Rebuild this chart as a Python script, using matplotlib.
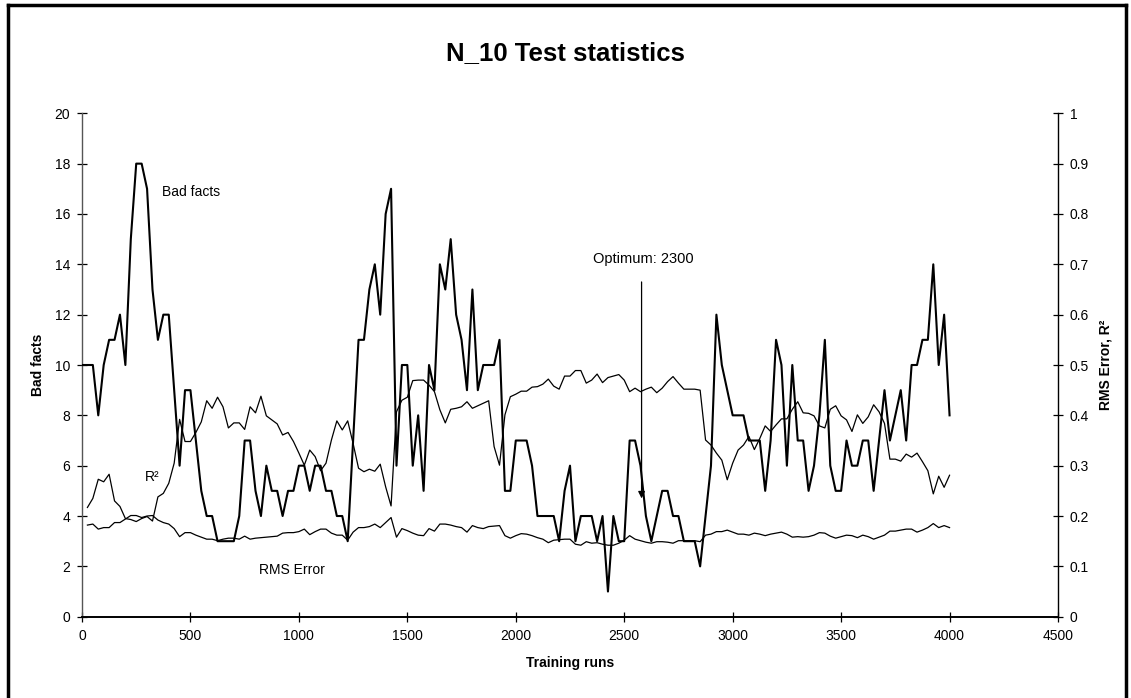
import numpy as np
import matplotlib
matplotlib.use("Agg")
import matplotlib.pyplot as plt
from matplotlib.lines import Line2D

plt.rcParams['font.family'] = ['Liberation Sans', 'DejaVu Sans']

# ---------------- data ----------------
runs = np.arange(0, 4025, 25)          # training runs, one sample every 25 runs

bad_facts = [10, 10, 10, 8, 10, 11, 11, 12, 10, 15,
             18, 18, 17, 13, 11, 12, 12, 9, 6, 9,
             9, 7, 5, 4, 4, 3, 3, 3, 3, 4,
             7, 7, 5, 4, 6, 5, 5, 4, 5, 5,
             6, 6, 5, 6, 6, 5, 5, 4, 4, 3,
             7, 11, 11, 13, 14, 12, 16, 17, 6, 10,
             10, 6, 8, 5, 10, 9, 14, 13, 15, 12,
             11, 9, 13, 9, 10, 10, 10, 11, 5, 5,
             7, 7, 7, 6, 4, 4, 4, 4, 3, 5,
             6, 3, 4, 4, 4, 3, 4, 1, 4, 3,
             3, 7, 7, 6, 4, 3, 4, 5, 5, 4,
             4, 3, 3, 3, 2, 4, 6, 12, 10, 9,
             8, 8, 8, 7, 7, 7, 5, 7, 11, 10,
             6, 10, 7, 7, 5, 6, 8, 11, 6, 5,
             5, 7, 6, 6, 7, 7, 5, 7, 9, 7,
             8, 9, 7, 10, 10, 11, 11, 14, 10, 12,
             8]

# R² and RMS error start at 25 runs
r_squared = [0.217, 0.235, 0.273, 0.268, 0.283, 0.230, 0.219, 0.195, 0.193,
             0.189, 0.195, 0.199, 0.190, 0.238, 0.245, 0.265, 0.305, 0.392, 0.348,
             0.348, 0.366, 0.387, 0.429, 0.414, 0.436, 0.417, 0.375, 0.385, 0.385,
             0.372, 0.417, 0.405, 0.438, 0.399, 0.391, 0.383, 0.361, 0.366, 0.348,
             0.325, 0.301, 0.331, 0.318, 0.290, 0.305, 0.351, 0.389, 0.371, 0.389,
             0.344, 0.295, 0.288, 0.293, 0.289, 0.303, 0.258, 0.220, 0.407, 0.430,
             0.436, 0.469, 0.470, 0.470, 0.460, 0.447, 0.411, 0.385, 0.412, 0.414,
             0.417, 0.427, 0.414, 0.419, 0.424, 0.429, 0.338, 0.301, 0.401, 0.437,
             0.442, 0.448, 0.448, 0.456, 0.457, 0.462, 0.472, 0.458, 0.452, 0.478,
             0.478, 0.489, 0.489, 0.464, 0.470, 0.482, 0.465, 0.475, 0.478, 0.481,
             0.470, 0.447, 0.454, 0.447, 0.452, 0.456, 0.445, 0.454, 0.467, 0.477,
             0.464, 0.452, 0.452, 0.452, 0.450, 0.351, 0.341, 0.325, 0.311, 0.272,
             0.305, 0.331, 0.341, 0.358, 0.332, 0.354, 0.379, 0.368, 0.381, 0.393,
             0.393, 0.412, 0.427, 0.405, 0.404, 0.399, 0.379, 0.375, 0.412, 0.419,
             0.399, 0.391, 0.368, 0.401, 0.384, 0.397, 0.421, 0.407, 0.384, 0.313,
             0.313, 0.309, 0.323, 0.317, 0.325, 0.308, 0.290, 0.244, 0.279, 0.257,
             0.281]

rms_error = [0.182, 0.184, 0.174, 0.177, 0.177, 0.187, 0.187, 0.194, 0.201,
             0.201, 0.197, 0.200, 0.201, 0.192, 0.187, 0.184, 0.175, 0.159, 0.167,
             0.167, 0.162, 0.158, 0.154, 0.154, 0.151, 0.154, 0.156, 0.156, 0.154,
             0.160, 0.154, 0.156, 0.157, 0.158, 0.159, 0.160, 0.166, 0.167, 0.167,
             0.169, 0.174, 0.163, 0.169, 0.174, 0.174, 0.166, 0.162, 0.162, 0.152,
             0.168, 0.177, 0.177, 0.179, 0.184, 0.177, 0.187, 0.197, 0.158, 0.175,
             0.171, 0.166, 0.162, 0.161, 0.175, 0.170, 0.184, 0.184, 0.182, 0.179,
             0.177, 0.168, 0.181, 0.177, 0.175, 0.179, 0.180, 0.181, 0.161, 0.156,
             0.161, 0.165, 0.164, 0.161, 0.157, 0.154, 0.147, 0.152, 0.153, 0.154,
             0.154, 0.144, 0.142, 0.149, 0.146, 0.147, 0.144, 0.142, 0.142, 0.146,
             0.152, 0.161, 0.154, 0.151, 0.148, 0.146, 0.149, 0.149, 0.148, 0.146,
             0.151, 0.151, 0.151, 0.151, 0.149, 0.162, 0.164, 0.169, 0.169, 0.172,
             0.168, 0.164, 0.164, 0.162, 0.166, 0.164, 0.161, 0.164, 0.166, 0.168,
             0.164, 0.158, 0.159, 0.158, 0.159, 0.162, 0.167, 0.166, 0.160, 0.156,
             0.159, 0.162, 0.161, 0.157, 0.162, 0.159, 0.154, 0.158, 0.162, 0.170,
             0.170, 0.172, 0.174, 0.174, 0.168, 0.172, 0.177, 0.185, 0.177, 0.181,
             0.177]

x_ticks = [0, 500, 1000, 1500, 2000, 2500, 3000, 3500, 4000, 4500]
left_ticks = [0, 2, 4, 6, 8, 10, 12, 14, 16, 18, 20]
right_ticks = [0, 0.1, 0.2, 0.3, 0.4, 0.5, 0.6, 0.7, 0.8, 0.9, 1]
right_tick_labels = ["0", "0.1", "0.2", "0.3", "0.4", "0.5", "0.6", "0.7", "0.8", "0.9", "1"]

optimum_x = 2580          # where the annotation arrow sits on the x axis
optimum_top = 13.3
optimum_tip = 4.7

# ---------------- figure ----------------
W, H = 1131, 698
fig = plt.figure(figsize=(W / 100, H / 100), dpi=100)
fig.patch.set_facecolor("white")

x0, x1 = 82, 1058
y_top, y_bot = 113.3, 616.7
ax = fig.add_axes([x0 / W, 1 - y_bot / H, (x1 - x0) / W, (y_bot - y_top) / H])
ax2 = ax.twinx()

ax.plot(runs, bad_facts, color="black", lw=1.5, zorder=3)
ax2.plot(runs[1:], r_squared, color="black", lw=0.9)
ax2.plot(runs[1:], rms_error, color="black", lw=0.9)

ax.set_xlim(0, 4500)
ax.set_ylim(0, 20)
ax2.set_ylim(0, 1)

ax.set_xticks(x_ticks)
ax.set_xticklabels([str(t) for t in x_ticks])
ax.set_yticks(left_ticks)
ax.set_yticklabels([str(t) for t in left_ticks])
ax2.set_yticks(right_ticks)
ax2.set_yticklabels(right_tick_labels)

for a in (ax, ax2):
    a.spines["top"].set_visible(False)
    a.set_facecolor("none")
    for s in ("left", "right", "bottom"):
        a.spines[s].set_linewidth(1.0)
        a.spines[s].set_color("black")
    a.tick_params(direction="inout", length=7, width=0.9, labelsize=10, colors="black", pad=5)
ax.spines["left"].set_color("#555555")
ax.spines["right"].set_visible(False)
ax2.spines["left"].set_visible(False)
ax.spines["bottom"].set_linewidth(1.4)
ax2.spines["bottom"].set_visible(False)

ax.set_xlabel("Training runs", fontsize=10, fontweight="bold", labelpad=10)
ax.set_ylabel("Bad facts", fontsize=10, fontweight="bold")
ax2.set_ylabel("RMS Error, R²", fontsize=10, fontweight="bold")
ax.yaxis.set_label_coords(-(x0 - 45) / (x1 - x0), 0.5)
ax2.yaxis.set_label_coords(1 + (1099 - x1) / (x1 - x0), 0.5)

fig.text(0.5, 1 - 53 / H, "N_10 Test statistics", ha="center", va="center",
         fontsize=18.5, fontweight="bold")

# series labels
ax.text(370, 16.87, "Bad facts", fontsize=10, ha="left", va="center")
ax.text(325, 5.55, "R²", fontsize=10, ha="center", va="center")
ax.text(970, 1.85, "RMS Error", fontsize=10, ha="center", va="center")

# optimum annotation
ax.annotate("", xy=(optimum_x, optimum_tip), xytext=(optimum_x, optimum_top),
            arrowprops=dict(arrowstyle="-|>", color="black", lw=0.9,
                            mutation_scale=10, shrinkA=0, shrinkB=0), zorder=5)
ax.text(optimum_x + 8, 14.2, "Optimum: 2300", fontsize=10.5, ha="center", va="center")

# outer frame (left, top, right)
fig.add_artist(Line2D([7.5 / W, 7.5 / W], [0, 1 - 4.5 / H], transform=fig.transFigure,
                      color="black", lw=2.5))
fig.add_artist(Line2D([7.5 / W, 1126 / W], [1 - 4.5 / H, 1 - 4.5 / H],
                      transform=fig.transFigure, color="black", lw=2.5))
fig.add_artist(Line2D([1126 / W, 1126 / W], [0, 1 - 4.5 / H], transform=fig.transFigure,
                      color="black", lw=2.5))

fig.savefig("out.png", dpi=100, facecolor="white")
